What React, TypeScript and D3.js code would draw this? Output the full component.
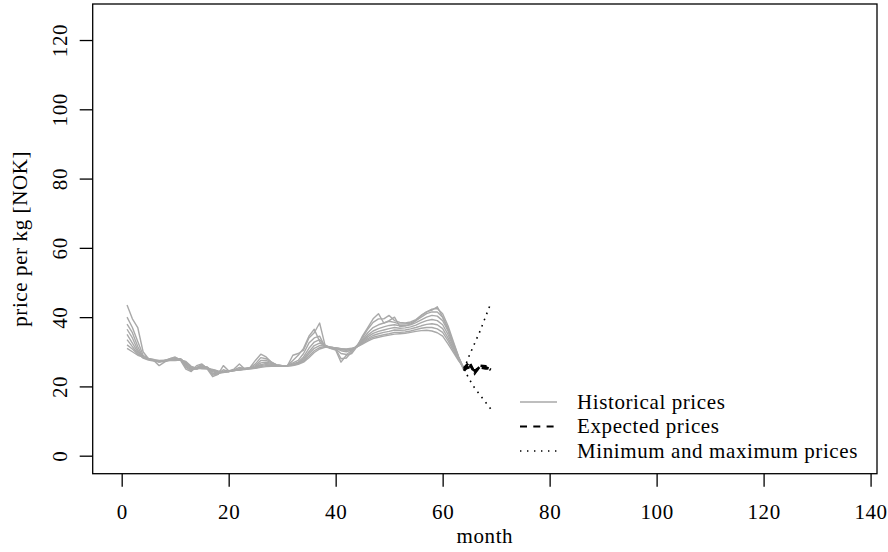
import React, { useEffect, useRef } from 'react';
import * as d3 from 'd3';

// historical price curves, months 1..64
const hist1 = [
  43.5, 39.5, 37, 30, 28, 27.5, 26, 27, 28, 28.5,
  27.5, 25, 24.3, 26, 26.5, 25, 22.8, 23.5, 26, 24.5,
  25, 26.5, 25, 25.5, 27.5, 29.3, 28.5, 27, 26, 25.8,
  26, 29, 29.5, 30.5, 34, 35.5, 38.3, 32, 31, 30.5,
  27, 29, 29.5, 31.5, 34.5, 37, 39.5, 41, 38.3, 39,
  40, 37.3, 37.5, 38, 39, 40.5, 41.5, 42, 43, 40,
  36.5, 32, 28, 24.5,
];
const hist2 = [
  40, 37, 33, 29, 28, 27.8, 27, 27.5, 28, 28.3,
  27.8, 25.5, 24.5, 25.5, 26.3, 25.3, 23.3, 23.5, 24.8, 24.3,
  24.8, 25.5, 25.2, 25.4, 26.5, 28.3, 28, 27, 26.2, 25.9,
  26, 27.5, 29, 31, 34.5, 36.5, 33, 31.5, 31, 30.8,
  28, 28.2, 30, 31.8, 34, 36.5, 38.5, 39.5, 39.5, 40.5,
  39, 38.5, 38.3, 38.6, 39.3, 40.5, 41.5, 42.3, 42.5, 41,
  37.5, 33, 28.5, 24.8,
];
const hist3 = [
  38, 35.5, 31.5, 28.5, 28, 27.5, 27.3, 27.5, 27.8, 28,
  27.9, 25.8, 24.8, 25.3, 26, 25.5, 23.8, 23.6, 24.3, 24.3,
  24.7, 25.1, 25.2, 25.3, 26, 27.5, 27.5, 26.8, 26.2, 26,
  26, 26.8, 27.5, 29.5, 32.5, 34, 34.5, 31.5, 31.2, 30.8,
  29.5, 29.2, 30.3, 31.8, 33.5, 35.5, 37, 37.8, 38.3, 38.8,
  38.5, 38, 38, 38.3, 39, 40, 41, 41.5, 41.5, 40,
  36.8, 32.5, 28.5, 25,
];
const hist4 = [
  36.5, 34, 30.5, 28.5, 27.8, 27.5, 27.2, 27.3, 27.6, 27.9,
  28, 26.2, 25, 25, 25.8, 25.6, 24.2, 23.8, 24.1, 24.3,
  24.7, 24.9, 25.1, 25.3, 25.7, 26.8, 27, 26.6, 26.2, 26,
  26, 26.5, 27, 28.5, 31, 32.8, 33.5, 31.8, 31.2, 31,
  30.3, 30, 30.5, 31.7, 33.2, 34.8, 36, 36.7, 37.2, 37.6,
  37.8, 37.5, 37.5, 37.8, 38.4, 39.2, 40, 40.5, 40.3, 39,
  36, 32, 28.3, 25,
];
const hist5 = [
  35, 32.5, 30, 28.2, 27.6, 27.3, 27, 27.2, 27.5, 27.8,
  28, 26.5, 25.2, 25, 25.5, 25.5, 24.5, 24, 24, 24.3,
  24.6, 24.8, 25, 25.2, 25.5, 26.3, 26.6, 26.4, 26.1, 26,
  26, 26.3, 26.8, 28, 30, 31.8, 32.5, 31.8, 31.3, 31,
  30.6, 30.4, 30.7, 31.6, 33, 34.3, 35.3, 35.9, 36.3, 36.7,
  37, 36.8, 36.9, 37.2, 37.7, 38.4, 39, 39.3, 39, 37.8,
  35, 31.5, 28, 25,
];
const hist6 = [
  33.5, 31.5, 29.5, 28.3, 27.8, 27.5, 27.3, 27.4, 27.6, 27.7,
  27.9, 26.8, 25.4, 25.1, 25.3, 25.3, 24.7, 24.2, 24.1, 24.3,
  24.6, 24.8, 25, 25.2, 25.4, 26, 26.3, 26.2, 26, 26,
  26, 26.2, 26.6, 27.6, 29.4, 31, 31.8, 31.6, 31.3, 31.1,
  30.8, 30.6, 30.8, 31.5, 32.7, 33.8, 34.7, 35.2, 35.6, 35.9,
  36.3, 36.2, 36.3, 36.6, 37, 37.5, 37.9, 38.1, 37.8, 36.7,
  34, 31, 27.8, 25.2,
];
const hist7 = [
  32, 30.8, 29.3, 28.3, 27.9, 27.6, 27.4, 27.5, 27.6, 27.6,
  27.8, 27, 25.6, 25.2, 25.2, 25.2, 24.8, 24.4, 24.2, 24.4,
  24.6, 24.8, 25, 25.1, 25.3, 25.7, 26, 26, 25.9, 25.9,
  25.9, 26.1, 26.5, 27.3, 28.8, 30.3, 31.2, 31.5, 31.3, 31.1,
  30.9, 30.7, 30.9, 31.4, 32.4, 33.4, 34.2, 34.6, 34.9, 35.2,
  35.6, 35.6, 35.7, 36, 36.4, 36.8, 37, 37, 36.6, 35.6,
  33.2, 30.4, 27.6, 25.3,
];
const hist8 = [
  31, 30, 29, 28.5, 28, 27.7, 27.5, 27.5, 27.5, 27.5,
  27.6, 27.2, 25.8, 25.3, 25.1, 25, 24.9, 24.5, 24.3, 24.4,
  24.6, 24.7, 24.9, 25.1, 25.2, 25.5, 25.7, 25.8, 25.8, 25.8,
  25.9, 26, 26.4, 27, 28.3, 29.8, 30.8, 31.3, 31.3, 31.1,
  30.9, 30.8, 31, 31.4, 32.2, 33.1, 33.8, 34.2, 34.5, 34.8,
  35.1, 35.2, 35.3, 35.6, 35.9, 36.1, 36.2, 36, 35.5, 34.5,
  32.3, 29.8, 27.4, 25.3,
];
const historical = [hist1, hist2, hist3, hist4, hist5, hist6, hist7, hist8];

// forecast horizon, months 64..69
const forecastMonths = [64, 65, 66, 67, 68, 69];
const expected1 = [24.5, 26.5, 24.0, 25.8, 25.5, 25.0];
const expected2 = [25.0, 25.5, 24.5, 25.5, 25.2, 25.2];
const expected3 = [25.3, 27.0, 23.8, 26.0, 25.8, 24.8];
const expected = [expected1, expected2, expected3];
const maxPrices = [25, 29, 32.5, 36, 40, 44];
const minPrices = [25, 22, 19.5, 17.5, 15.5, 13.5];

const xTicks = [0, 20, 40, 60, 80, 100, 120, 140];
const yTicks = [0, 20, 40, 60, 80, 100, 120];

const legendItems = [
  { label: 'Historical prices', kind: 'hist' },
  { label: 'Expected prices', kind: 'exp' },
  { label: 'Minimum and maximum prices', kind: 'minmax' },
];

const FONT = '"Liberation Serif", "Times New Roman", serif';
const FONT_SIZE = '21px';
const SPACING = '0.6px';
const GREY = '#a9a9a9';

export default function App() {
  const svgRef = useRef<SVGSVGElement>(null);

  useEffect(() => {
    if (!svgRef.current) return;
    const width = 888;
    const height = 552;
    const box = { left: 92.7, right: 877, top: 4, bottom: 473.7 };

    const svg = d3.select(svgRef.current);
    svg.selectAll('*').remove();
    svg.attr('width', width).attr('height', height).attr('font-family', FONT);

    const x = d3.scaleLinear().domain([-5.42, 141.2]).range([box.left, box.right]);
    const y = d3.scaleLinear().domain([-5.2, 130.4]).range([box.bottom, box.top]);

    const line = d3.line<[number, number]>()
      .x(d => x(d[0]))
      .y(d => y(d[1]));

    const styleText = (sel: any) => sel
      .attr('font-family', FONT)
      .style('font-family', FONT)
      .style('font-size', FONT_SIZE)
      .style('letter-spacing', SPACING)
      .attr('fill', '#000');

    // Historical prices
    svg.append('g')
      .selectAll('path')
      .data(historical)
      .join('path')
      .attr('d', s => line(s.map((v, i) => [i + 1, v] as [number, number])))
      .attr('fill', 'none')
      .attr('stroke', GREY)
      .attr('stroke-width', 1.4)
      .attr('stroke-linejoin', 'round');

    // Min / max
    svg.append('g')
      .selectAll('path')
      .data([maxPrices, minPrices])
      .join('path')
      .attr('d', s => line(s.map((v, i) => [forecastMonths[i], v] as [number, number])))
      .attr('fill', 'none')
      .attr('stroke', '#000')
      .attr('stroke-width', 1.6)
      .attr('stroke-dasharray', '1.6,5');

    // Expected prices
    svg.append('g')
      .selectAll('path')
      .data(expected)
      .join('path')
      .attr('d', s => line(s.map((v, i) => [forecastMonths[i], v] as [number, number])))
      .attr('fill', 'none')
      .attr('stroke', '#000')
      .attr('stroke-width', 2.6)
      .attr('stroke-dasharray', '6,4');

    // Box
    svg.append('rect')
      .attr('x', box.left)
      .attr('y', box.top)
      .attr('width', box.right - box.left)
      .attr('height', box.bottom - box.top)
      .attr('fill', 'none')
      .attr('stroke', '#000')
      .attr('stroke-width', 1.3);

    // x axis
    const xAxis = svg.append('g').attr('transform', `translate(0,${box.bottom})`)
      .call(d3.axisBottom(x).tickValues(xTicks).tickSize(13).tickFormat(d => `${d}`));
    xAxis.attr('font-family', FONT);
    xAxis.select('.domain').remove();
    xAxis.selectAll('line').attr('stroke', '#000').attr('stroke-width', 1.3);
    xAxis.selectAll('text').attr('y', 45).attr('dy', null).call(styleText);

    // y axis
    const yAxis = svg.append('g').attr('transform', `translate(${box.left},0)`)
      .call(d3.axisLeft(y).tickValues(yTicks).tickSize(13).tickFormat(d => `${d}`));
    yAxis.attr('font-family', FONT);
    yAxis.select('.domain').remove();
    yAxis.selectAll('line').attr('stroke', '#000').attr('stroke-width', 1.3);
    yAxis.selectAll('text')
      .attr('x', null)
      .attr('dy', null)
      .attr('y', 0)
      .attr('transform', 'translate(-26,0) rotate(-90)')
      .attr('text-anchor', 'middle')
      .call(styleText);

    // Axis titles
    svg.append('text')
      .attr('x', (box.left + box.right) / 2)
      .attr('y', 543)
      .attr('text-anchor', 'middle')
      .call(styleText)
      .text('month');

    svg.append('text')
      .attr('transform', `translate(27,${(box.top + box.bottom) / 2}) rotate(-90)`)
      .attr('text-anchor', 'middle')
      .call(styleText)
      .text('price per kg [NOK]');

    // Legend
    const legend = svg.append('g');
    const rowY = d3.scaleLinear().domain([0, 2]).range([402, 451]);
    legendItems.forEach((item, i) => {
      const yy = rowY(i);
      const l = legend.append('line')
        .attr('x1', 520).attr('x2', 557)
        .attr('y1', yy).attr('y2', yy)
        .attr('stroke', item.kind === 'hist' ? GREY : '#000');
      if (item.kind === 'hist') l.attr('stroke-width', 1.4);
      if (item.kind === 'exp') l.attr('stroke-width', 2).attr('stroke-dasharray', '7,6.3');
      if (item.kind === 'minmax') l.attr('stroke-width', 1.4).attr('stroke-dasharray', '1.4,5.6');
      legend.append('text')
        .attr('x', 577)
        .attr('y', yy + 6.5)
        .call(styleText)
        .text(item.label);
    });
  }, []);

  return (
    <div style={{ position: 'absolute', left: 0, top: 0 }}>
      <svg ref={svgRef} />
    </div>
  );
}
